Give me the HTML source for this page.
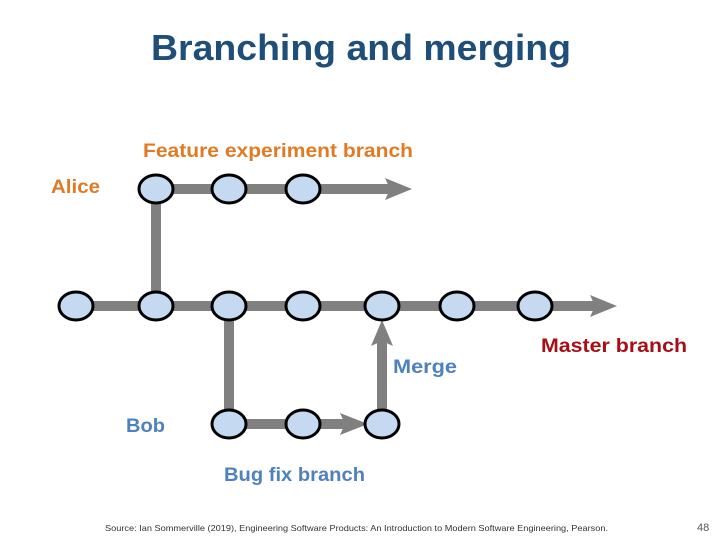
<!DOCTYPE html>
<html><head><meta charset="utf-8"><style>
html,body{margin:0;padding:0;background:#fff;width:720px;height:540px;overflow:hidden}
svg{display:block}
text{font-family:"Liberation Sans",sans-serif}
</style></head><body>
<svg width="720" height="540" viewBox="0 0 720 540">
<text x="151" y="60" font-size="36" fill="#1f4e79" font-weight="bold" textLength="420" lengthAdjust="spacingAndGlyphs">Branching and merging</text>
<g stroke="#808080" stroke-width="10" fill="none">
<line x1="156" y1="189" x2="396" y2="189"/>
<line x1="156" y1="189" x2="156" y2="306"/>
<line x1="76" y1="306" x2="600" y2="306"/>
<line x1="229" y1="306" x2="229" y2="424"/>
<line x1="229" y1="424" x2="350" y2="424"/>
<line x1="382" y1="424" x2="382" y2="338"/>
</g>
<g fill="#808080">
<polygon points="385,178 412,189 385,200 390,189"/>
<polygon points="590,295 617,306 590,317 595,306"/>
<polygon points="340,413 368,424 340,435 345,424"/>
<polygon points="371,346 382,320 393,346 382,341"/>
</g>
<g fill="#c5d9f1" stroke="#000" stroke-width="3">
<ellipse cx="156" cy="189" rx="17" ry="14"/>
<ellipse cx="229" cy="189" rx="17" ry="14"/>
<ellipse cx="303" cy="189" rx="17" ry="14"/>
<ellipse cx="76" cy="306" rx="17" ry="14"/>
<ellipse cx="156" cy="306" rx="17" ry="14"/>
<ellipse cx="229" cy="306" rx="17" ry="14"/>
<ellipse cx="303" cy="306" rx="17" ry="14"/>
<ellipse cx="382" cy="306" rx="17" ry="14"/>
<ellipse cx="457" cy="306" rx="17" ry="14"/>
<ellipse cx="535" cy="306" rx="17" ry="14"/>
<ellipse cx="229" cy="424" rx="17" ry="14"/>
<ellipse cx="303" cy="424" rx="17" ry="14"/>
<ellipse cx="382" cy="424" rx="17" ry="14"/>
</g>
<g font-size="19" font-weight="bold">
<text x="143" y="157" fill="#e07b24" textLength="270" lengthAdjust="spacingAndGlyphs">Feature experiment branch</text>
<text x="51" y="193" fill="#e07b24" textLength="49" lengthAdjust="spacingAndGlyphs">Alice</text>
<text x="393" y="373" fill="#4f81bd" textLength="64" lengthAdjust="spacingAndGlyphs">Merge</text>
<text x="541" y="352" fill="#a50f15" textLength="146" lengthAdjust="spacingAndGlyphs">Master branch</text>
<text x="126" y="432" fill="#4f81bd" textLength="39" lengthAdjust="spacingAndGlyphs">Bob</text>
<text x="224" y="481" fill="#4f81bd" textLength="141" lengthAdjust="spacingAndGlyphs">Bug fix branch</text>
</g>
<text x="105" y="531" font-size="8.5" fill="#333" textLength="503" lengthAdjust="spacingAndGlyphs">Source: Ian Sommerville (2019), Engineering Software Products: An Introduction to Modern Software Engineering, Pearson.</text>
<text x="697" y="531" font-size="11" fill="#555">48</text>
</svg>
</body></html>
